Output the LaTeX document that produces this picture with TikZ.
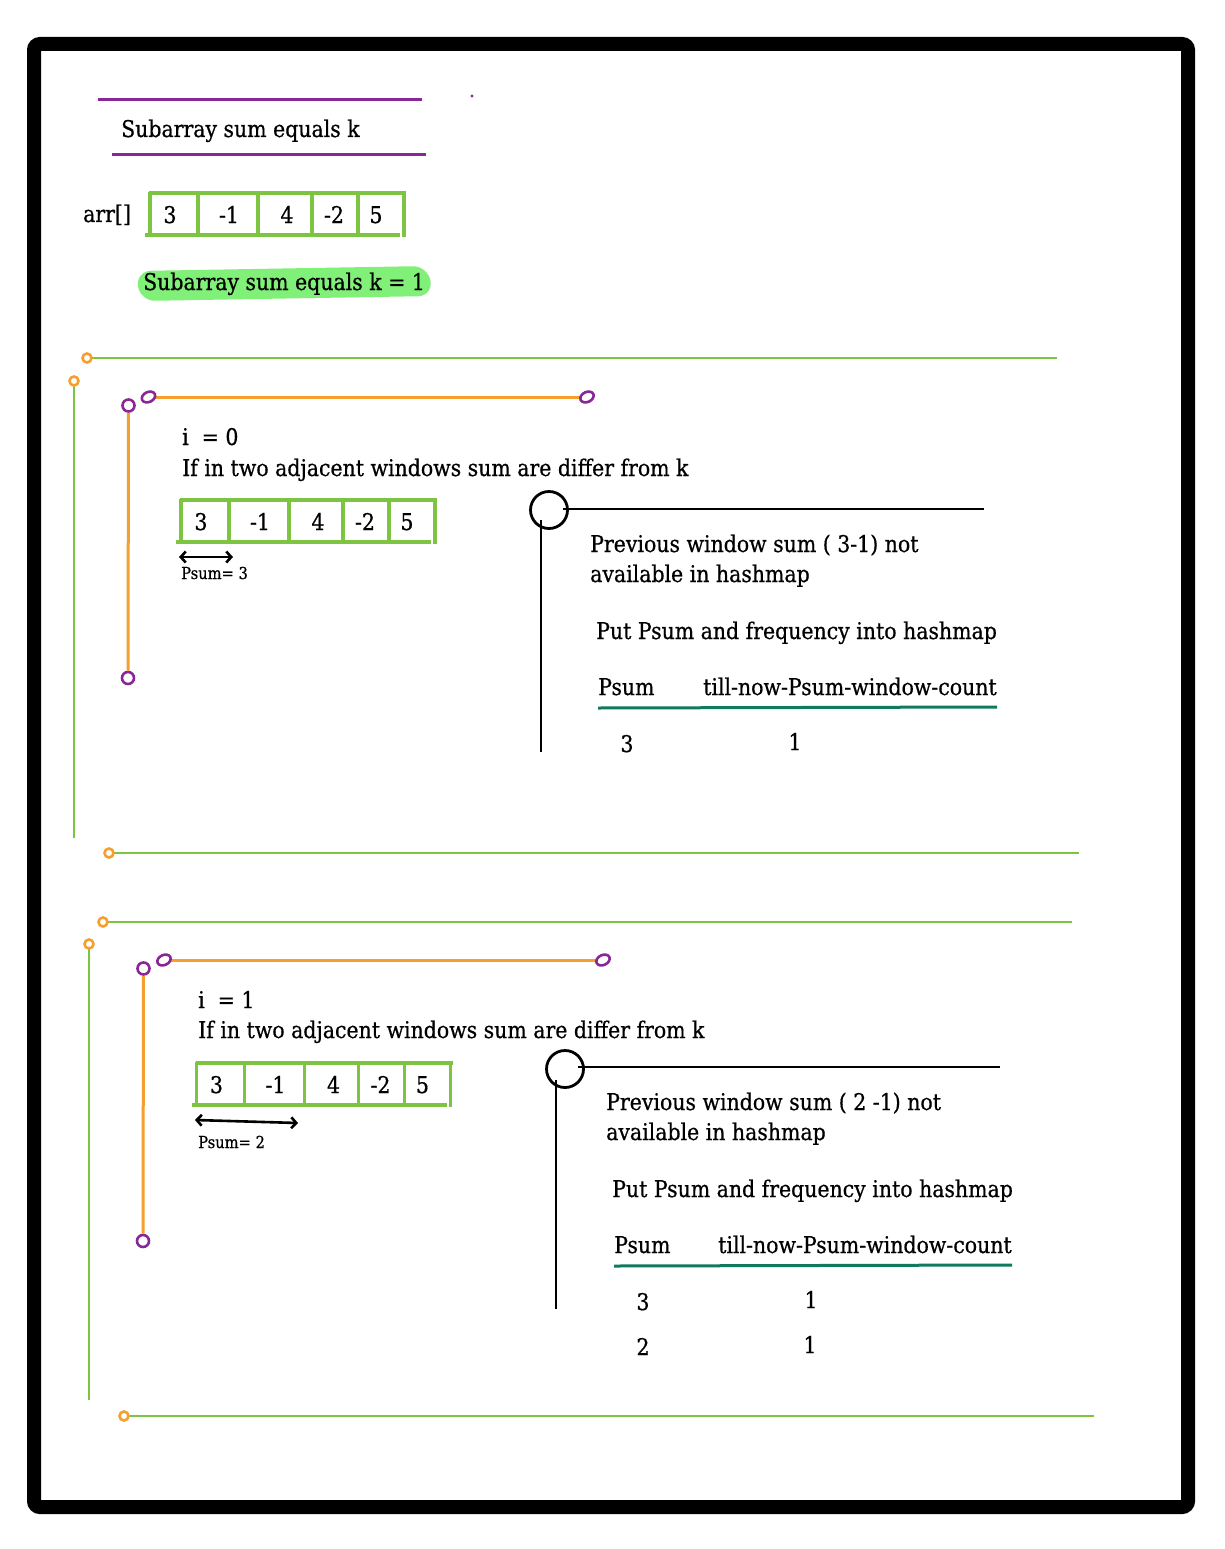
\documentclass[tikz,border=0pt]{standalone}
\usepackage{fontspec}
\setmainfont{DejaVu Serif}[FakeStretch=0.89,FakeBold=0.6]
\usetikzlibrary{arrows.meta}
\definecolor{lgreen}{RGB}{125,196,66}
\definecolor{orng}{RGB}{245,160,45}
\definecolor{purp}{RGB}{135,40,150}
\definecolor{tealline}{RGB}{16,122,94}
\definecolor{hlgreen}{RGB}{128,240,120}
\newcommand\mainsz{\fontsize{23}{28}\selectfont}
\newcommand\smallsz{\fontsize{16.5}{20}\selectfont}
\newcommand\drawarr[3]{%
 \begin{scope}[shift={(#1,#2)}]
  \draw[cellline] (-1,0) -- (256,0);
  \draw[cellline] (-5,42) -- (250,42);
  \foreach \cx in {0,48,108,162,208,254} \draw[cellline] (\cx,-1) -- (\cx,44);
  \node[numtxt] (#3a) at (20,30) {3};
  \node[numtxt] (#3b) at (79,30) {-1};
  \node[numtxt] (#3c) at (137,30) {4};
  \node[numtxt] (#3d) at (184,30) {-2};
  \node[numtxt] (#3e) at (226,30) {5};
 \end{scope}}
\begin{document}
\begin{tikzpicture}[x=1pt,y=-1pt,
 txt/.style={anchor=base west, inner sep=0pt, font=\mainsz},
 numtxt/.style={anchor=base, inner sep=0pt, font=\mainsz},
 smalltxt/.style={anchor=base west, inner sep=0pt, font=\smallsz},
 gline/.style={draw=lgreen, line width=2.8pt},
 oline/.style={draw=orng, line width=3pt},
 pline/.style={draw=purp, line width=3pt},
 bline/.style={draw=black, line width=2.8pt},
 tline/.style={draw=tealline, line width=3pt},
 cellline/.style={draw=lgreen, line width=3.2pt},
 arrline/.style={draw=black, line width=2.6pt, {Straight Barb[length=5pt,width=11pt]}-{Straight Barb[length=5pt,width=11pt]}},
 odot/.style={circle, draw=orng, line width=2.6pt, minimum size=9pt, inner sep=0pt, fill=white},
 pdot/.style={circle, draw=purp, line width=2.6pt, minimum size=12pt, inner sep=0pt, fill=white},
 bring/.style={circle, draw=black, line width=2.8pt, minimum size=37pt, inner sep=0pt},
 pell/.style={draw=purp, line width=2.6pt, fill=white}
]
\useasboundingbox (0,0) rectangle (1224,1549);
\fill[white] (0,0) rectangle (1224,1549);
% frame
\draw[line width=14pt, rounded corners=6pt] (34,44) rectangle (1188,1507);

% header
\coordinate (pa1) at (98,100); \coordinate (pa2) at (422,100);
\coordinate (pb1) at (112,155); \coordinate (pb2) at (426,155);
\draw[pline] (pa1) -- (pa2);
\draw[pline] (pb1) -- (pb2);
\fill[purp] (472,96) circle (1.6pt);
\node[txt] (title) at (121,137) {Subarray sum equals k};
\node[txt] (arrlbl) at (83,222) {arr[]};
\drawarr{150}{193}{arrA}
\fill[hlgreen, rounded corners=15pt] (136,271) -- (428,266) -- (433,296) -- (140,301) -- cycle;
\node[txt] (hltxt) at (143,290) {Subarray sum equals k = 1};

% ===== block 1 =====
\coordinate (g1a) at (87,358); \coordinate (g1b) at (1057,358);
\draw[gline] (g1a) -- (g1b);
\node[odot] (g1c) at (g1a) {};
\coordinate (v1a) at (74,381); \coordinate (v1b) at (74,838);
\draw[gline] (v1a) -- (v1b);
\node[odot] (v1c) at (v1a) {};
\coordinate (o1a) at (148.5,397); \coordinate (o1b) at (587,397);
\draw[oline] (o1a) -- (o1b);
\draw[pell, rotate around={25:(o1a)}] (o1a) ellipse [x radius=7pt, y radius=5pt];
\draw[pell, rotate around={25:(o1b)}] (o1b) ellipse [x radius=7pt, y radius=5pt];
\node[pdot] (q1a) at (128.5,405.5) {};
\node[pdot] (q1b) at (128,678) {};
\draw[oline] (q1a) -- (q1b);
\node[txt] (i1) at (182,445) {i~~= 0};
\node[txt] (if1) at (182,476) {If in two adjacent windows sum are differ from k};
\drawarr{181}{500}{arrB}
\coordinate (ar1a) at (179,557); \coordinate (ar1b) at (233,557);
\draw[arrline] (ar1a) -- (ar1b);
\node[smalltxt] (ps1) at (181,579) {Psum= 3};
\node[bring] (r1) at (549,510) {};
\coordinate (h1a) at (563,509); \coordinate (h1b) at (984,509);
\coordinate (w1a) at (541,520); \coordinate (w1b) at (541,752);
\draw[bline] (h1a) -- (h1b);
\draw[bline] (w1a) -- (w1b);
\node[txt] (prev1) at (590,552) {Previous window sum ( 3-1) not};
\node[txt] (av1) at (590,582) {available in hashmap};
\node[txt] (put1) at (596,639) {Put Psum and frequency into hashmap};
\node[txt] (ph1) at (598,695) {Psum};
\node[txt] (th1) at (703,695) {till-now-Psum-window-count};
\coordinate (tl1a) at (598,708); \coordinate (tl1b) at (997,707);
\draw[tline] (tl1a) -- (tl1b);
\node[numtxt] (k1a) at (627,752) {3};
\node[numtxt] (c1a) at (795,750) {1};
\coordinate (g2a) at (109,853); \coordinate (g2b) at (1079,853);
\draw[gline] (g2a) -- (g2b);
\node[odot] (g2c) at (g2a) {};

% ===== block 2 =====
\coordinate (g3a) at (103,922); \coordinate (g3b) at (1072,922);
\draw[gline] (g3a) -- (g3b);
\node[odot] (g3c) at (g3a) {};
\coordinate (v2a) at (89,944); \coordinate (v2b) at (89,1400);
\draw[gline] (v2a) -- (v2b);
\node[odot] (v2c) at (v2a) {};
\coordinate (o2a) at (164,960); \coordinate (o2b) at (603,960);
\draw[oline] (o2a) -- (o2b);
\draw[pell, rotate around={25:(o2a)}] (o2a) ellipse [x radius=7pt, y radius=5pt];
\draw[pell, rotate around={25:(o2b)}] (o2b) ellipse [x radius=7pt, y radius=5pt];
\node[pdot] (q2a) at (143.5,968.5) {};
\node[pdot] (q2b) at (143,1241) {};
\draw[oline] (q2a) -- (q2b);
\node[txt] (i2) at (198,1008) {i~~= 1};
\node[txt] (if2) at (198,1038) {If in two adjacent windows sum are differ from k};
\drawarr{196.5}{1063}{arrC}
\coordinate (ar2a) at (195,1120); \coordinate (ar2b) at (298,1123);
\draw[arrline] (ar2a) -- (ar2b);
\node[smalltxt] (ps2) at (198,1148) {Psum= 2};
\node[bring] (r2) at (565,1069) {};
\coordinate (h2a) at (578,1067); \coordinate (h2b) at (1000,1067);
\coordinate (w2a) at (556,1080); \coordinate (w2b) at (556,1309);
\draw[bline] (h2a) -- (h2b);
\draw[bline] (w2a) -- (w2b);
\node[txt] (prev2) at (606,1110) {Previous window sum ( 2 -1) not};
\node[txt] (av2) at (606,1140) {available in hashmap};
\node[txt] (put2) at (612,1197) {Put Psum and frequency into hashmap};
\node[txt] (ph2) at (614,1253) {Psum};
\node[txt] (th2) at (718,1253) {till-now-Psum-window-count};
\coordinate (tl2a) at (614,1266); \coordinate (tl2b) at (1012,1265);
\draw[tline] (tl2a) -- (tl2b);
\node[numtxt] (k2a) at (643,1310) {3};
\node[numtxt] (c2a) at (811,1308) {1};
\node[numtxt] (k2b) at (643,1355) {2};
\node[numtxt] (c2b) at (810,1353) {1};
\coordinate (g4a) at (124,1416); \coordinate (g4b) at (1094,1416);
\draw[gline] (g4a) -- (g4b);
\node[odot] (g4c) at (g4a) {};
\end{tikzpicture}
\end{document}
